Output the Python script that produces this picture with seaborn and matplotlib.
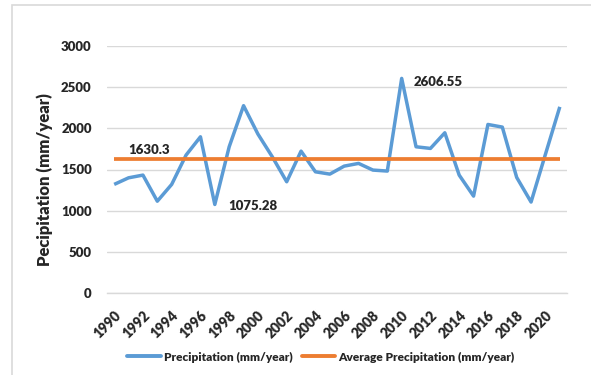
import matplotlib
matplotlib.use("Agg")
import matplotlib.pyplot as plt
import matplotlib.patches as mpatches
import seaborn as sns
import pandas as pd
import numpy as np

years = list(range(1990, 2022))
precip = [1319, 1399, 1432, 1115, 1319, 1675, 1897, 1075.28, 1776, 2275,
          1930, 1654, 1351, 1723, 1472, 1444, 1541, 1574, 1493, 1481,
          2606.55, 1776, 1756, 1946, 1432, 1177, 2047, 2015, 1404, 1105,
          1685, 2261]
avg_precip = 1630.3
tick_years = list(range(1990, 2021, 2))
y_ticks = [0, 500, 1000, 1500, 2000, 2500, 3000]

sns.set_theme(style="white")
plt.rcParams["font.family"] = ["Lato", "DejaVu Sans"]

BLUE = "#5B9BD5"
ORANGE = "#ED7D31"
GRID = "#D9D9D9"
WEIGHT = 800

df = pd.DataFrame({"Year": years,
                   "Precipitation (mm/year)": precip,
                   "Average Precipitation (mm/year)": [avg_precip] * len(years)})
long = df.melt(id_vars="Year", var_name="Series", value_name="Value")

fig = plt.figure(figsize=(5.91, 3.75), dpi=100)
ax = fig.add_axes([107 / 591, 1 - 293 / 375, 460 / 591, 247 / 375])

sns.lineplot(data=long, x="Year", y="Value", hue="Series",
             palette={"Precipitation (mm/year)": BLUE,
                      "Average Precipitation (mm/year)": ORANGE},
             linewidth=2.5, ax=ax, legend=False)
for ln, lw in zip(ax.lines, [2.5, 2.7]):
    ln.set_linewidth(lw)
    ln.set_solid_capstyle("butt")

ax.set_xlim(1989.5, 2021.5)
ax.set_ylim(0, 3000)
ax.set_yticks(y_ticks)
ax.set_xticks(tick_years)
ax.set_xticklabels([str(y) for y in tick_years], rotation=45, ha="right",
                   rotation_mode="anchor", fontsize=10, fontweight=WEIGHT)
ax.set_yticklabels([str(v) for v in y_ticks], fontsize=9.5, fontweight=WEIGHT)
ax.tick_params(axis="y", length=0, pad=11)
ax.tick_params(axis="x", length=0, pad=11)
ax.yaxis.grid(True, color=GRID, linewidth=1)
ax.set_axisbelow(True)
for s in ax.spines.values():
    s.set_visible(False)
ax.spines["bottom"].set_visible(True)
ax.spines["bottom"].set_color(GRID)
ax.spines["bottom"].set_linewidth(1)

ax.set_xlabel("")
ax.set_ylabel("Pecipitation (mm/year)", fontsize=12, fontweight=WEIGHT)
ax.yaxis.set_label_coords((53 - 107) / 460, (293 - 180) / 247)

# value labels
ax.text(1991.0, avg_precip + 105, f"{avg_precip:g}", fontsize=9.5, fontweight=WEIGHT,
        ha="left", va="center")
imin = int(np.argmin(precip))
ax.text(years[imin] + 0.95, precip[imin] - 20, f"{precip[imin]:.2f}", fontsize=9.5,
        fontweight=WEIGHT, ha="left", va="center")
imax = int(np.argmax(precip))
ax.text(years[imax] + 0.8, precip[imax] - 40, f"{precip[imax]:.2f}", fontsize=9.5,
        fontweight=WEIGHT, ha="left", va="center")

handles = [plt.Line2D([], [], color=BLUE, lw=2.8),
           plt.Line2D([], [], color=ORANGE, lw=2.8)]
fig.legend(handles, ["Precipitation (mm/year)", "Average Precipitation (mm/year)"],
           loc="center", bbox_to_anchor=(321 / 591, 1 - 357 / 375), ncol=2,
           frameon=False, handlelength=2.8, handletextpad=0.25, columnspacing=0.8,
           prop={"size": 8.6, "weight": WEIGHT})

# chart frame
fig.patches.append(mpatches.Rectangle((12 / 591, -0.05), 1.1, 1 - 5 / 375 + 0.05,
                                      transform=fig.transFigure, fill=False,
                                      edgecolor="#D9D9D9", linewidth=1.2))

fig.savefig("out.png", dpi=100)
